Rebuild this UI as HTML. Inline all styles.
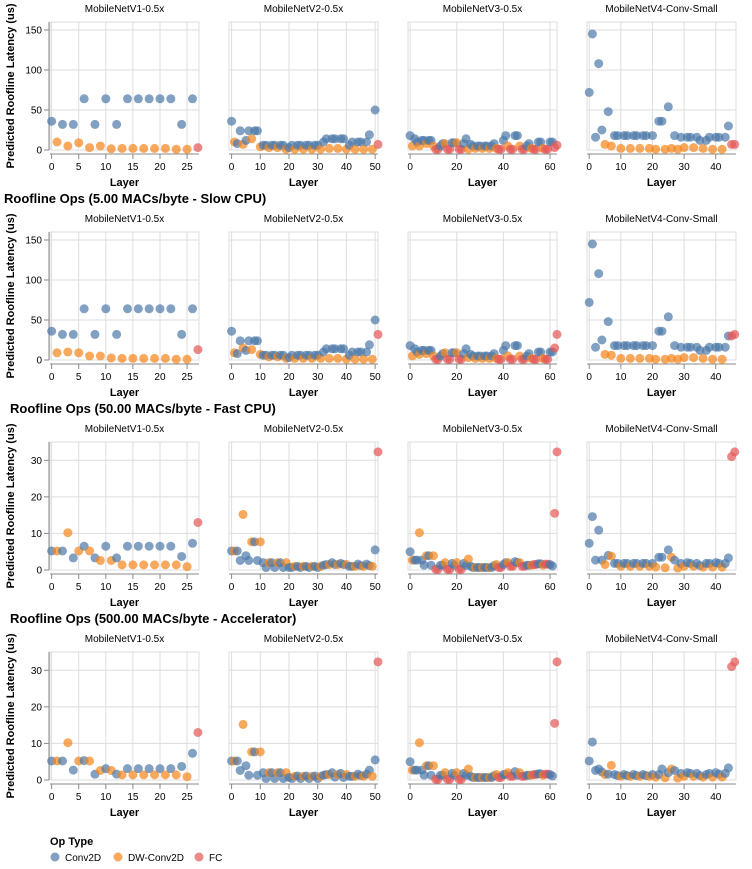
<!DOCTYPE html>
<html><head><meta charset="utf-8">
<style>
html,body{margin:0;padding:0;background:#fff;}
svg{display:block;font-family:"Liberation Sans",Arial,sans-serif;}
</style></head>
<body>
<svg id="chart" width="752" height="869" viewBox="0 0 752 869" xmlns="http://www.w3.org/2000/svg"></svg>
<script>
// ---- data ----
const models = ["MobileNetV1-0.5x","MobileNetV2-0.5x","MobileNetV3-0.5x","MobileNetV4-Conv-Small"];
const rowTitles = ["", "Roofline Ops (5.00 MACs/byte - Slow CPU)", "Roofline Ops (50.00 MACs/byte - Fast CPU)", "Roofline Ops (500.00 MACs/byte - Accelerator)"];
const opTypes = ["Conv2D","DW-Conv2D","FC"];
// layer types per model (C=Conv2D, D=DW-Conv2D, F=FC), layer index = position
const typesV1 = "CDCDCDCDCDCDCDCDCDCDCDCDCDCF";
const typesV2 = "CDCCDCCDCCDCCDCCDCCDCCDCCDCCDCCDCCDCCDCCDCCDCCDCCDCF";
const typesV3 = "CDCCDCCDCCDFFCCDFFCCDFFCCDCCDCCDCCDCCDFFCCDFFCCDFFCCDFFCCDFFCCFF";
const typesV4 = "CCCCCDCDCCDCCDCCDCCDCDCCDCDCDCDCCDCCDCCDCCDCCFF";
const yTicksBig = [0,50,100,150];
const yTicksSmall = [0,10,20,30];
const xTicksV1 = [0,5,10,15,20,25];
const xTicksV2 = [0,10,20,30,40,50];
const xTicksV3 = [0,20,40,60];
const xTicksV4 = [0,10,20,30,40];
// row 1
const r1v1 = [36,10,32,5,32,9,64,3,32,5,64,1.5,32,2,64,2,64,2,64,2,64,2,64,1,32,1,64,3];
const r1v2 = [36,10,8,24,7,12,24,14,24,24,4,6,6,3,6,6,3,6,6,1,3,6,1,6,6,1,6,6,1,6,6,1,10,14,2,14,14,2,14,14,1,6,10,1,10,10,1,10,19,1,50,7];
const r1v3 = [18,5,14,10,5,12,12,8,12,12,5,1,1,5,8,8,1,1,9,9,9,1,1,8,14,1,7,5,2,5,5,2,5,5,2,5,8,2,1,1,12,18,5,1,1,18,18,5,1,1,5,8,2,1,1,10,10,2,1,1,10,10,3,6];
const r1v4 = [72,145,16,108,25,7,48,5,18,18,2,18,18,2,18,18,2,18,18,2,18,1,36,36,1,54,2,18,1,16,3,16,16,3,16,12,2,12,16,1,16,16,1,16,30,7,7];
// row 2
const r2v1 = [36,9,32,10,32,9,64,5,32,5,64,2.5,32,2,64,2,64,2,64,2,64,2,64,1,32,1,64,13];
const r2v2 = [36,9,8,24,15,12,24,13,24,24,7,6,6,4,6,6,4,6,6,2,3,6,2,6,6,2,6,6,2,6,6,2,10,14,2,14,14,2,14,14,1,6,10,1,10,10,1,10,19,1,50,32];
const r2v3 = [18,5,14,10,7,12,12,8,12,12,5,1,1,5,8,9,1,1,9,9,9,1,1,8,14,3,7,5,2,5,5,2,5,5,2,5,8,2,1,1,12,18,5,1,1,18,18,5,1,1,5,8,2,1,1,10,10,2,1,1,10,10,15,32];
const r2v4 = [72,145,16,108,25,7,48,6,18,18,2,18,18,2,18,18,2,18,18,2,18,1,36,36,1,54,2,18,1,16,3,16,16,3,16,12,2,12,16,1,16,16,1,16,30,30,32];
// row 3
const r3v1 = [5.2,5.2,5.2,10.2,3.3,5.2,6.5,5.2,3.3,2.6,6.5,2.6,3.3,1.4,6.5,1.4,6.5,1.4,6.5,1.4,6.5,1.4,6.5,1.4,3.7,0.9,7.3,13];
const r3v2 = [5.2,5.2,5.2,2.6,15.2,3.9,2.6,7.7,7.7,2.6,7.7,2,0.7,2,2,0.7,2,2,0.7,2,0.7,0.7,1,1,0.7,1,1,0.7,1,1,0.7,1,1.3,1.5,1.5,2,1.5,1.5,1.8,1.5,1.5,1,1,1,1.6,1.2,1,1.6,1.2,1,5.5,32.3];
const r3v3 = [5,2.7,2.7,2.7,10.2,2.7,1.3,3.9,3.9,1.3,3.9,0.2,0.2,1.3,1.3,2,0.2,0.2,1.8,1.3,2,0.2,0.2,1.8,1.3,3,1,0.7,0.7,0.7,0.7,0.7,0.7,0.7,0.7,0.7,1.2,1.5,0.7,0.7,1.5,2,2,1,1,2.3,2,2,1,1,1.3,1.3,1.3,1.5,1.5,1.7,1.7,1.3,1.6,1.6,1.5,1.1,15.5,32.3];
const r3v4 = [7.3,14.6,2.7,10.9,2.7,1.5,4,3.8,1.8,1.8,1,1.8,1.8,1,1.8,1.8,1,1.8,1.8,1,1.8,0.8,3.5,3.5,0.6,5.5,3.5,2.7,0.5,1.8,1,2,1.8,1,1.8,1.2,0.8,1.8,1.8,0.8,2,1.8,0.8,1.8,3.3,31,32.3];
// row 4
const r4v1 = [5.2,5.2,5.2,10.2,2.7,5.2,5.3,5.2,1.6,2.6,3.1,2.6,1.6,1.4,3.1,1.4,3.1,1.4,3.1,1.4,3.1,1.4,3.1,1.4,3.7,0.9,7.3,13];
const r4v2 = [5.2,5.2,5.2,2.6,15.2,3.9,1.3,7.7,7.7,1.3,7.7,2,0.4,2,2,0.4,2,2,0.4,2,0.7,0.4,1,1.1,0.4,1,1.1,0.4,1,1.1,0.4,1,1.3,1.5,1.5,2,0.8,1.5,1.8,0.7,1.5,1,1,1,1.6,1.2,1,1.6,2.7,1,5.5,32.3];
const r4v3 = [5,2.7,2.7,2.7,10.2,2.7,1.3,3.9,3.9,1.3,3.9,0.2,0.2,1.3,1.3,2,0.2,0.2,1.8,1.3,2,0.2,0.2,1.8,1.3,3,1,0.7,0.7,0.7,0.7,0.7,0.7,0.7,0.7,0.7,1.2,1.5,0.7,0.7,1.5,1.5,2,1,1,2.3,1.3,2,1,1,1.3,1.3,1.3,1.5,1.5,1.7,1.7,1.3,1.6,1.6,1.5,1.1,15.5,32.3];
const r4v4 = [5.2,10.4,2.6,3,2.2,1.5,1.6,4,1.5,1.2,1,1.5,1.2,1,1.5,1.2,1,1.5,1.2,1,1.5,0.8,1.5,3,0.6,2,3,2.6,0.5,1.8,1,2,1.8,1,1.8,1.2,0.8,1.5,1.8,0.8,2,1.6,0.8,1.8,3.3,31,32.3];

const rowValues = [[r1v1,r1v2,r1v3,r1v4],[r2v1,r2v2,r2v3,r2v4],[r3v1,r3v2,r3v3,r3v4],[r4v1,r4v2,r4v3,r4v4]];
const modelTypes = [typesV1,typesV2,typesV3,typesV4];
const modelXTicks = [xTicksV1,xTicksV2,xTicksV3,xTicksV4];
const rowYTicks = [yTicksBig,yTicksBig,yTicksSmall,yTicksSmall];

// ---- layout ----
const svg = document.getElementById('chart');
const NS = "http://www.w3.org/2000/svg";
const colX = [50,229,408,587], PW = 149, PH = 128;
const rowBottom = [150,360,570,780];
const xDomains = [[-0.3,27.2],[-0.9,51],[-0.9,63],[-0.7,46.4]];
const yDomains = [[0,160],[0,160],[0,35],[0,35]];
const colors = {C:"#4c78a8", D:"#f58518", F:"#e45756"};
const typeNames = {C:"conv2d", D:"dw-conv2d", F:"fc"};

function el(tag, attrs, parent, text){
  const e = document.createElementNS(NS, tag);
  for (const k in attrs) e.setAttribute(k, attrs[k]);
  if (text !== undefined) e.textContent = text;
  (parent || svg).appendChild(e);
  return e;
}
function xScale(c, v){ const d = xDomains[c]; return colX[c] + (v - d[0]) / (d[1]-d[0]) * PW; }
function yScale(r, v){ const d = yDomains[r]; return rowBottom[r] - (v - d[0]) / (d[1]-d[0]) * PH; }

const titleY = [0,198,408,618], titleX = [0,4,10,10];
for (let r = 0; r < 4; r++) {
  if (rowTitles[r]) {
    const t = el('text', {x:titleX[r], y:titleY[r]+5, 'font-size':13, 'font-weight':'bold', fill:'#000'}, svg, rowTitles[r]);
    
    
  }
  const bottom = rowBottom[r], top = bottom - PH;
  for (let c = 0; c < 4; c++) {
    const g = el('g', {});
    
    
    const x0 = colX[c];
    // title
    const tt = el('text', {x:x0+PW/2, y:top-10, 'font-size':10, 'text-anchor':'middle', fill:'#000'}, g, models[c]);
    
    
    // frame
    el('rect', {x:x0, y:top, width:PW, height:PH, fill:'none', stroke:'#ddd', 'stroke-width':1}, g);
    // grid
    rowYTicks[r].forEach(v => {
      const y = yScale(r, v);
      el('line', {x1:x0, x2:x0+PW, y1:y, y2:y, stroke:'#ddd', 'stroke-width':1}, g);
    });
    modelXTicks[c].forEach(v => {
      const x = xScale(c, v);
      el('line', {x1:x, x2:x, y1:top, y2:bottom, stroke:'#ddd', 'stroke-width':1}, g);
    });
    // x axis
    const xa = el('g', {}, g);
    
    
    el('line', {x1:x0, x2:x0+PW, y1:bottom+4, y2:bottom+4, stroke:'#888', 'stroke-width':1}, xa);
    modelXTicks[c].forEach(v => {
      const x = xScale(c, v);
      el('line', {x1:x, x2:x, y1:bottom+4, y2:bottom+9, stroke:'#888'}, xa);
      const tl = el('text', {x:x, y:bottom+20, 'font-size':10, 'text-anchor':'middle', fill:'#000'}, xa, String(v));
      
      
    });
    const xt = el('text', {x:x0+PW/2, y:bottom+36, 'font-size':11, 'font-weight':'bold', 'text-anchor':'middle', fill:'#000'}, xa, 'Layer');
    
    
    // y axis (first column only)
    if (c === 0) {
      const ya = el('g', {}, g);
      
      
      el('line', {x1:x0-1, x2:x0-1, y1:top, y2:bottom, stroke:'#888'}, ya);
      rowYTicks[r].forEach(v => {
        const y = yScale(r, v);
        el('line', {x1:x0-6, x2:x0-1, y1:y, y2:y, stroke:'#888'}, ya);
        const tl = el('text', {x:x0-8, y:y+3.5, 'font-size':10, 'text-anchor':'end', fill:'#000'}, ya, String(v));
        
        
      });
      const yt = el('text', {x:0, y:0, 'font-size':11, 'font-weight':'bold', 'text-anchor':'middle', fill:'#000',
        transform:'translate(14,' + (top+PH/2) + ') rotate(-90)'}, ya, 'Predicted Roofline Latency (us)');
      
      
    }
    // points
    const vals = rowValues[r][c], types = modelTypes[c];
    for (let i = 0; i < vals.length; i++) {
      const t = types[i] || 'C';
      const p = el('circle', {cx:xScale(c, i), cy:yScale(r, vals[i]), r:4.5, fill:colors[t], 'fill-opacity':0.7}, g);
      
      
    }
  }
}
// legend
const lg = el('g', {});


const lt = el('text', {x:50, y:845, 'font-size':11, 'font-weight':'bold', fill:'#000'}, lg, 'Op Type');


const legX = [55,118,199], legTx = [65,128,209], legKeys = ['C','D','F'];
for (let k = 0; k < 3; k++) {
  const eg = el('g', {}, lg);
  
  
  el('circle', {cx:legX[k], cy:857, r:4.5, fill:colors[legKeys[k]], 'fill-opacity':0.7}, eg);
  el('text', {x:legTx[k], y:861, 'font-size':10, fill:'#000'}, eg, opTypes[k]);
}
</script>
</body></html>
